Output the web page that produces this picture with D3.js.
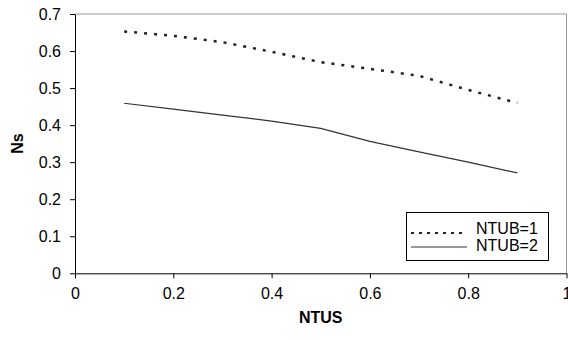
<!DOCTYPE html>
<html>
<head>
<meta charset="utf-8">
<script src="https://cdnjs.cloudflare.com/ajax/libs/d3/7.8.5/d3.min.js"></script>
<style>
  body { margin: 0; background: #fff; }
  svg { display: block; font-family: "Liberation Sans", Arial, sans-serif; }
</style>
</head>
<body>
<div></div>
<script>
var width = 568;
var height = 340;
var margin = {top: 14, right: 1, bottom: 67, left: 75};

// data
var ntus = [0.1, 0.2, 0.3, 0.4, 0.5, 0.6, 0.7, 0.8, 0.9];
var ntub1 = [0.653, 0.641, 0.624, 0.598, 0.570, 0.552, 0.533, 0.495, 0.460];
var ntub2 = [0.459, 0.443, 0.427, 0.411, 0.391, 0.356, 0.328, 0.300, 0.271];
var xTicks = [0, 0.2, 0.4, 0.6, 0.8, 1];
var yTicks = [0, 0.1, 0.2, 0.3, 0.4, 0.5, 0.6, 0.7];
var seriesNames = ["NTUB=1", "NTUB=2"];

var x = d3.scaleLinear()
	.domain([0, 1])
	.range([margin.left, width - margin.right - 0.5]);

var y = d3.scaleLinear()
	.domain([0, 0.7])
	.range([height - margin.bottom + 0.3, margin.top]);

var fmt = function(d) { return d3.format("~g")(d); };

var svg = d3.select("div")
	.append("svg")
	.attr("width", width)
	.attr("height", height);

// plot frame (top and right are grey)
svg.append("path")
	.attr("d", "M" + x(0) + "," + y(0.7) + "H" + x(1) + "V" + y(0))
	.attr("fill", "none")
	.attr("stroke", "#999")
	.attr("stroke-width", 1);

var xAxis = svg.append("g")
	.attr("transform", "translate(0," + y(0) + ")")
	.call(d3.axisBottom(x).tickValues(xTicks).tickFormat(fmt).tickSize(5).tickSizeOuter(0));

var yAxis = svg.append("g")
	.attr("transform", "translate(" + x(0) + ",0)")
	.call(d3.axisLeft(y).tickValues(yTicks).tickFormat(fmt).tickSize(5).tickSizeOuter(0));

[xAxis, yAxis].forEach(function(a) {
	a.select(".domain").attr("stroke", "#000");
	a.selectAll(".tick line").attr("stroke", "#000");
	a.selectAll("text")
		.style("font-family", "'Liberation Sans', Arial, sans-serif")
		.style("font-size", "16px")
		.attr("fill", "#000");
});
xAxis.selectAll("text").attr("y", 14);
yAxis.selectAll("text").attr("x", -14);

svg.append("text")
	.attr("x", (x(0) + x(1)) / 2)
	.attr("y", 323)
	.attr("text-anchor", "middle")
	.style("font-size", "16px")
	.style("font-weight", "bold")
	.text("NTUS");

svg.append("text")
	.attr("transform", "translate(23," + (y(0) + y(0.7)) / 2 + ") rotate(-90)")
	.attr("text-anchor", "middle")
	.style("font-size", "16px")
	.style("font-weight", "bold")
	.text("Ns");

var line = d3.line()
	.x(function(d) { return x(d[0]); })
	.y(function(d) { return y(d[1]); });

svg.append("path")
	.datum(d3.zip(ntus, ntub1))
	.attr("d", line)
	.attr("fill", "none")
	.attr("stroke", "#222")
	.attr("stroke-width", 2.5)
	.attr("stroke-dasharray", "3,7");

svg.append("path")
	.datum(d3.zip(ntus, ntub2))
	.attr("d", line)
	.attr("fill", "none")
	.attr("stroke", "#333")
	.attr("stroke-width", 1.2);

// legend
var legend = svg.append("g");
legend.append("rect")
	.attr("x", 406.5)
	.attr("y", 212.5)
	.attr("width", 142)
	.attr("height", 48)
	.attr("fill", "#fff")
	.attr("stroke", "#000");

var legY = [233, 247];
legend.append("line")
	.attr("x1", 411).attr("x2", 467)
	.attr("y1", legY[0]).attr("y2", legY[0])
	.attr("stroke", "#222")
	.attr("stroke-width", 2)
	.attr("stroke-dasharray", "3,5");
legend.append("line")
	.attr("x1", 411).attr("x2", 467)
	.attr("y1", legY[1]).attr("y2", legY[1])
	.attr("stroke", "#333")
	.attr("stroke-width", 1);

legend.selectAll("text.leg")
	.data(seriesNames)
	.enter().append("text")
	.attr("class", "leg")
	.attr("x", 476)
	.attr("y", function(d, i) { return [233.5, 250.5][i]; })
	.style("font-size", "16px")
	.text(function(d) { return d; });
</script>
</body>
</html>
